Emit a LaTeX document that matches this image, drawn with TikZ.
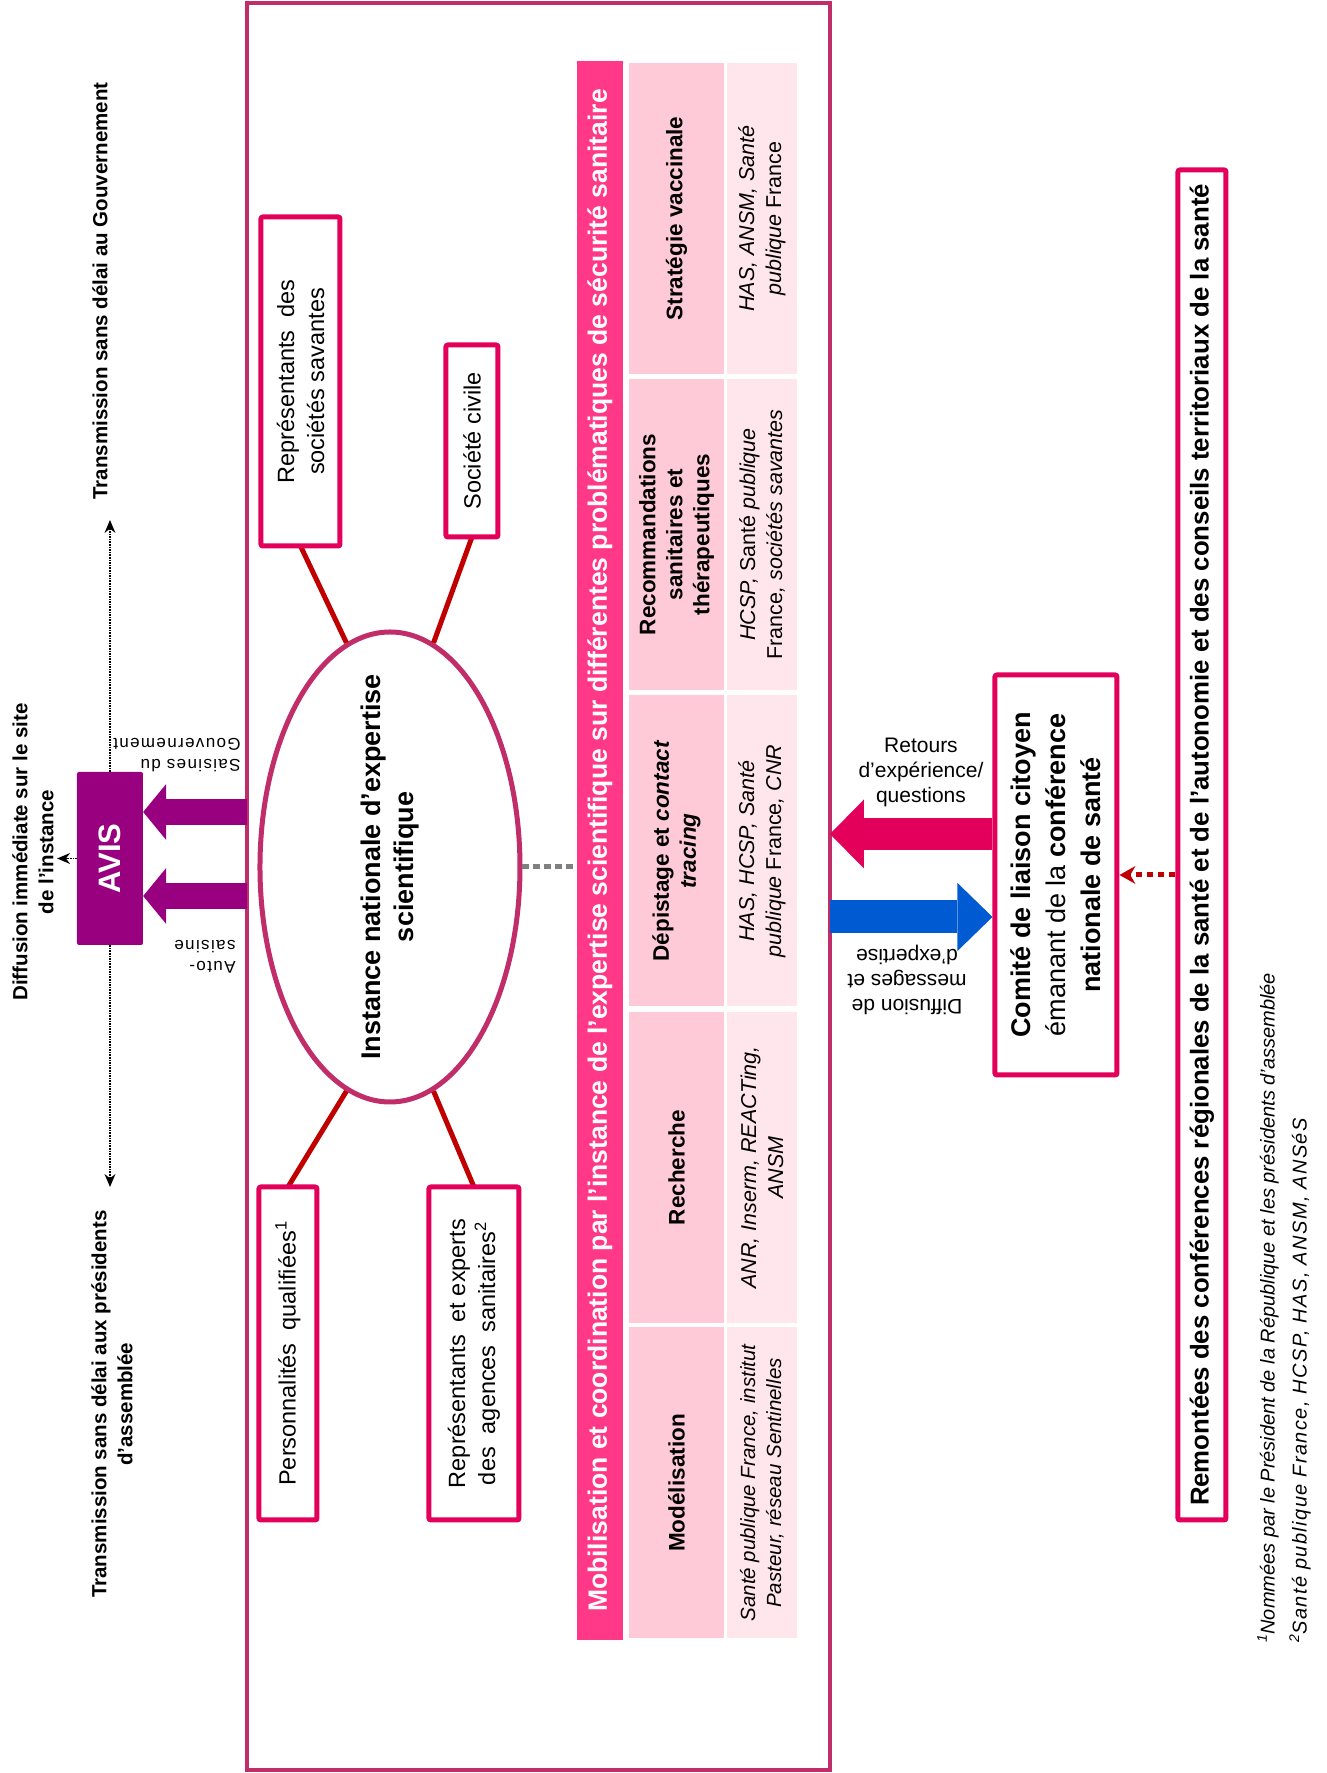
\documentclass[tikz,border=0pt]{standalone}
\usepackage{fontspec}
\setmainfont{Liberation Sans}
\newfontfamily\spacedfont[LetterSpace=8]{Liberation Sans}
\newfontfamily\spacednote[LetterSpace=7]{Liberation Sans}
\usetikzlibrary{arrows.meta,positioning,shapes.geometric}

\definecolor{framecol}{RGB}{192,45,105}
\definecolor{boxcol}{RGB}{227,0,90}
\definecolor{linkred}{RGB}{192,0,0}
\definecolor{avispurple}{RGB}{153,0,128}
\definecolor{barpink}{RGB}{255,56,136}
\definecolor{headpink}{RGB}{255,202,216}
\definecolor{agpink}{RGB}{255,230,237}
\definecolor{diffblue}{RGB}{0,90,210}

\tikzset{
  member/.style={draw=boxcol, line width=5pt, rounded corners=2pt, fill=white, align=center, inner sep=0pt, font=\fontsize{23.5}{30}\selectfont},
  link/.style={draw=linkred, line width=5pt},
  notetxt/.style={align=center, font=\bfseries\fontsize{20.5}{26}\selectfont},
  smalltxt/.style={align=left, font=\spacedfont\fontsize{17}{21}\selectfont},
  dotarrow/.style={densely dotted, line width=1.6pt, -{Stealth[length=13pt,width=11pt,line width=0pt]}},
  saisarrow/.style={avispurple, line width=26pt, -{Triangle[length=23pt,width=56pt,line width=0pt]}},
  retourarrow/.style={boxcol, line width=32pt, -{Triangle[length=34pt,width=69pt,line width=0pt]}},
  diffarrow/.style={diffblue, line width=33pt, -{Triangle[length=35pt,width=68pt,line width=0pt]}},
  cellhead/.style={fill=headpink, minimum width=311pt, minimum height=95pt, inner sep=0pt, align=center, font=\bfseries\fontsize{22.5}{27}\selectfont},
  cellag/.style={fill=agpink, minimum width=311pt, minimum height=70pt, inner sep=0pt, align=center, font=\itshape\fontsize{21.5}{27}\selectfont},
}

\begin{document}
\begin{tikzpicture}[x=1pt, y=1pt, rotate=90, transform shape]
\useasboundingbox (0,0) rectangle (1773,1327);

% cadre de l'instance
\node[draw=framecol, line width=4pt, minimum width=1767pt, minimum height=583pt, inner sep=0pt] (frame) at (886.5,788.5) {};

% instance nationale
\node[ellipse, draw=framecol, line width=5pt, minimum width=470pt, minimum height=260pt, inner sep=0pt,
  label={[name=insttxt, align=center, font=\bfseries\fontsize{27}{33}\selectfont]center:Instance nationale d’expertise\\scientifique}] (inst) at (906,937) {};

% membres
\draw[link] (1226,1026) -- (inst.11);
\draw[link] (1236,855) -- (inst.-11);
\draw[link] (586,1039) -- (inst.169);
\draw[link] (586,853) -- (inst.191);
\node[member, minimum width=329pt, minimum height=79pt] (ssav) at (1391.5,1026.5) {Représentants\ \ des\\sociétés savantes};
\node[member, minimum width=192pt, minimum height=52pt] (civ) at (1332,855) {Société civile};
\node[member, minimum width=333pt, minimum height=58pt] (perso) at (419.5,1039) {Personnalités\ \ qualifiées\textsuperscript{1}};
\node[member, minimum width=333pt, minimum height=90pt] (agen) at (419.5,853) {Représentants\ \ et experts\\des\ \ agences\ \ sanitaires\textsuperscript{2}};

% avis
\node[fill=avispurple, rounded corners=2pt, minimum width=173pt, minimum height=66pt, text=white, font=\bfseries\fontsize{31}{31}\selectfont] (avis) at (914.5,1217) {AVIS};
\coordinate (saisgov) at (961,1080);
\coordinate (autosais) at (877,1080);
\draw[saisarrow] (saisgov) -- (saisgov |- avis.south);
\draw[saisarrow] (autosais) -- (autosais |- avis.south);
\node[smalltxt, rotate=90] (saislbl) at (1018,1150) {Saisines du\\Gouvernement};
\node[smalltxt, rotate=90] (autolbl) at (816,1122) {Auto-\\saisine};

% diffusion de l'avis
\node[notetxt, anchor=west] (gouv) at (1270,1227) {Transmission sans délai au Gouvernement};
\node[notetxt, anchor=east] (pres) at (566,1215) {Transmission sans délai aux présidents\\d’assemblée};
\node[notetxt] (diffsite) at (921,1294) {Diffusion immédiate sur le site\\de l’instance};
\coordinate (gouvtip) at (1253,1217);
\coordinate (prestip) at (586,1217);
\draw[dotarrow] (avis.east) -- (gouvtip);
\draw[dotarrow] (avis.west) -- (prestip);
\draw[dotarrow] (avis.north) -- (avis.north |- diffsite.south);

% tableau des problematiques
\node[fill=barpink, minimum width=1579pt, minimum height=46pt, inner sep=0pt, text=white, font=\bfseries\fontsize{26.5}{26.5}\selectfont] (bar) at (922.5,727) {Mobilisation et coordination par l’instance de l’expertise scientifique sur différentes problématiques de sécurité sanitaire};
\draw[gray, line width=5pt, dash pattern=on 7pt off 4pt] (inst.south) -- (inst.south |- bar.north);

\node[cellhead] (modh) at (290,650.5) {Modélisation};
\node[cellag, font=\itshape\fontsize{20.5}{26}\selectfont] (moda) at (290,565) {Santé publique France, institut\\Pasteur, réseau Sentinelles};
\node[cellhead] (rechh) at (605.5,650.5) {Recherche};
\node[cellag] (recha) at (605.5,565) {ANR, Inserm, REACTing,\\ANSM};
\node[cellhead] (deph) at (922,650.5) {Dépistage et \textit{contact}\\\textit{tracing}};
\node[cellag] (depa) at (922,565) {HAS, HCSP, Santé\\publique {\upshape France}, CNR};
\node[cellhead] (recoh) at (1238.5,650.5) {Recommandations\\sanitaires et\\thérapeutiques};
\node[cellag] (recoa) at (1238.5,565) {HCSP, {\upshape Santé} publique\\{\upshape France}, sociétés savantes};
\node[cellhead] (vacch) at (1554.5,650.5) {Stratégie vaccinale};
\node[cellag] (vacca) at (1554.5,565) {HAS, ANSM, Santé\\publique {\upshape France}};

% comite de liaison
\node[member, minimum width=400pt, minimum height=122pt, font=\fontsize{27}{35}\selectfont] (comite) at (898,271) {\textbf{Comité de liaison citoyen}\\émanant de la \textbf{conférence}\\\textbf{nationale de santé}};
\coordinate (retour) at (939,497);
\coordinate (diffmsg) at (856,497);
\draw[retourarrow] (retour |- comite.north) -- (retour);
\draw[diffarrow] (diffmsg) -- (diffmsg |- comite.north);
\node[rotate=-90, align=center, font=\fontsize{21}{25}\selectfont] (retourlbl) at (1001,406) {Retours\\d’expérience/\\questions};
\node[rotate=90, align=center, font=\fontsize{21}{25}\selectfont] (difflbl) at (793,420) {Diffusion de\\messages et\\d’expertise};

% remontees territoriales
\node[member, minimum width=1350pt, minimum height=48pt, font=\bfseries\fontsize{25.8}{25.8}\selectfont] (rem) at (928,125) {Remontées des conférences régionales de la santé et de l’autonomie et des conseils territoriaux de la santé};
\draw[linkred, line width=5pt, dash pattern=on 6pt off 5pt, -{Stealth[length=16pt,width=18pt,line width=0pt]}] (comite.south |- rem.north) -- (comite.south);

% notes
\node[anchor=west, inner sep=0pt, font=\itshape\fontsize{20}{20}\selectfont] (fn1) at (130,59) {\textsuperscript{1}Nommées par le Président de la République et les présidents d’assemblée};
\node[anchor=west, inner sep=0pt, font=\spacednote\itshape\fontsize{20}{20}\selectfont] (fn2) at (130,27) {\textsuperscript{2}Santé publique France, HCSP, HAS, ANSM, ANSéS};
\end{tikzpicture}
\end{document}
